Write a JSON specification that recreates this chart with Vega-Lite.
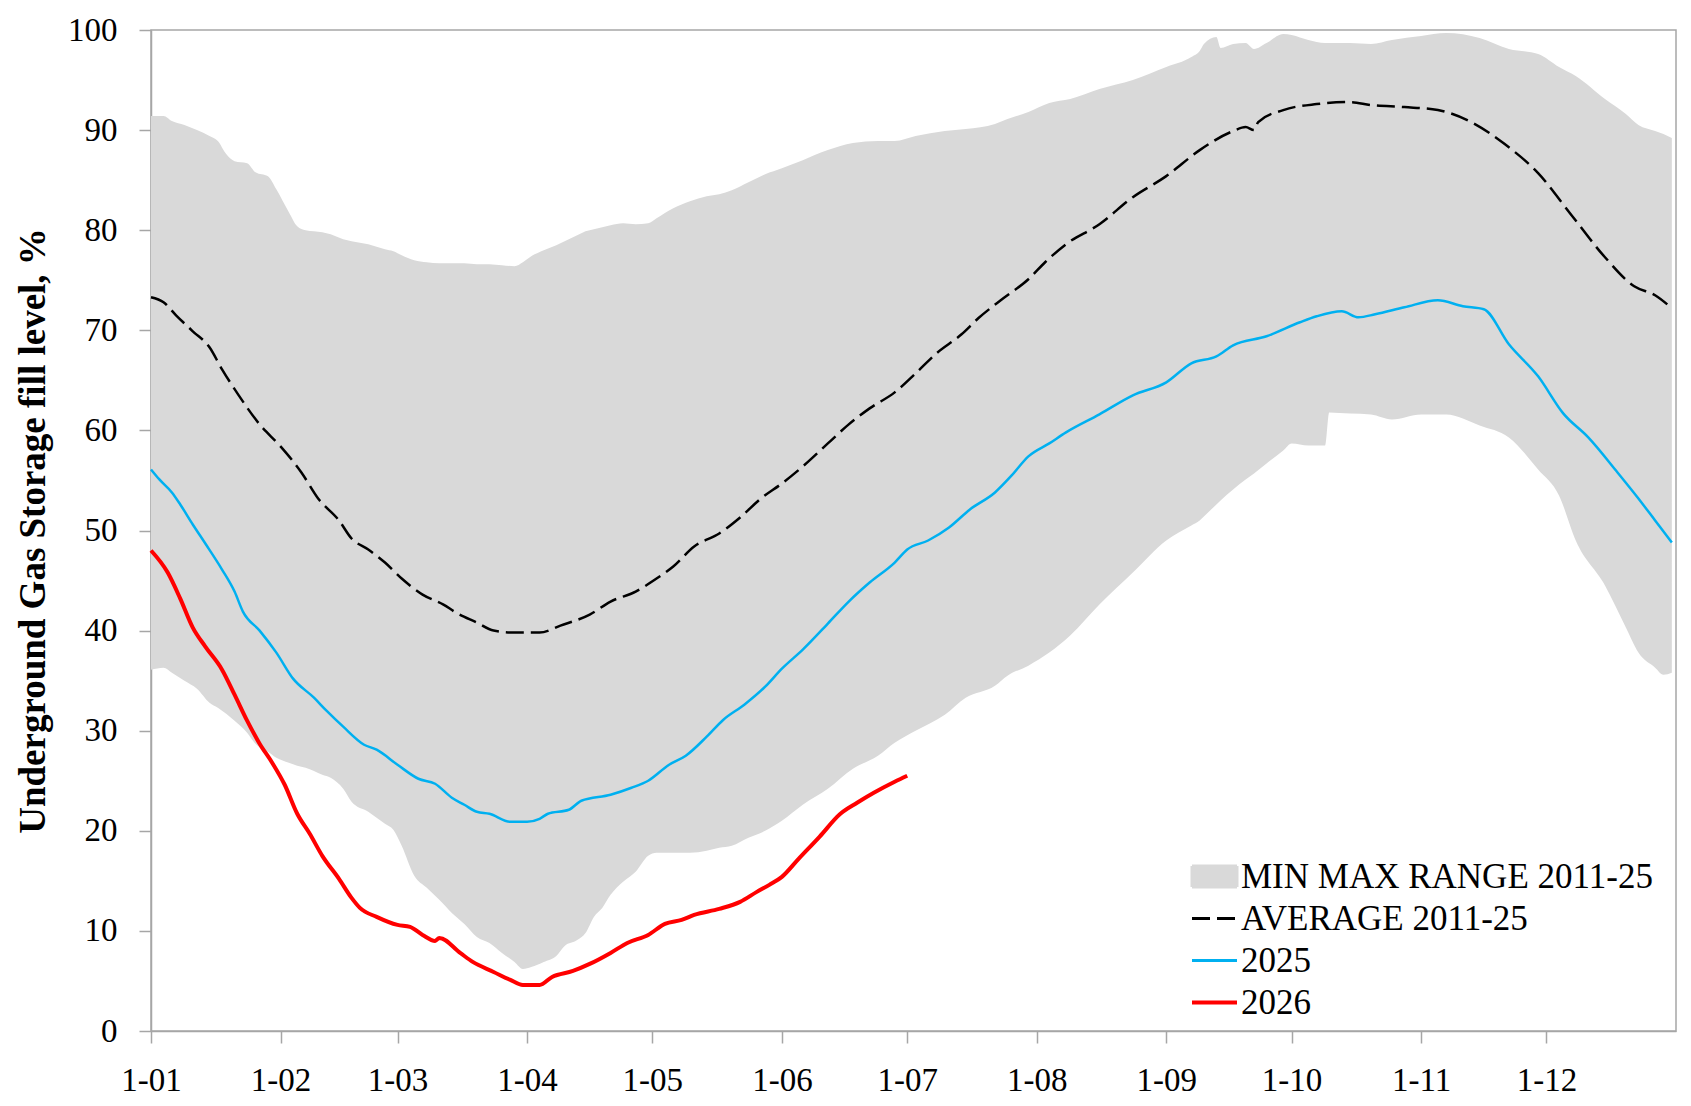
{
  "$schema": "https://vega.github.io/schema/vega-lite/v6.json",
  "width": 1525,
  "height": 1001,
  "autosize": {"type": "none"},
  "padding": {"left": 151, "top": 30, "right": 15, "bottom": 75},
  "background": "white",
  "config": {
    "font": "Liberation Serif",
    "view": {"stroke": "#a6a6a6", "strokeWidth": 1.5},
    "axis": {
      "domainColor": "#a6a6a6",
      "domainWidth": 1.5,
      "tickColor": "#a6a6a6",
      "tickWidth": 1.5,
      "tickSize": 12,
      "labelFont": "Liberation Serif",
      "labelFontSize": 33,
      "labelColor": "#000000",
      "grid": false,
      "zindex": 1
    },
    "legend": {
      "title": null,
      "orient": "none",
      "legendX": 1046,
      "legendY": 829,
      "padding": 0,
      "labelFont": "Liberation Serif",
      "labelFontSize": 35,
      "labelColor": "#000000",
      "labelOffset": 9,
      "labelLimit": 800,
      "symbolSize": 400,
      "rowPadding": 6
    }
  },
  "datasets": {
    "band": [
      {"date": "2025-01-01", "max": 91.4, "min": 36.1},
      {"date": "2025-01-04", "max": 91.4, "min": 36.3},
      {"date": "2025-01-06", "max": 90.9, "min": 35.8},
      {"date": "2025-01-09", "max": 90.5, "min": 35.0},
      {"date": "2025-01-12", "max": 90.0, "min": 34.2},
      {"date": "2025-01-15", "max": 89.4, "min": 32.8},
      {"date": "2025-01-17", "max": 88.9, "min": 32.3},
      {"date": "2025-01-19", "max": 87.6, "min": 31.7},
      {"date": "2025-01-21", "max": 86.9, "min": 31.0},
      {"date": "2025-01-24", "max": 86.7, "min": 29.8},
      {"date": "2025-01-26", "max": 85.8, "min": 28.7},
      {"date": "2025-01-29", "max": 85.4, "min": 27.9},
      {"date": "2025-01-31", "max": 84.1, "min": 27.3},
      {"date": "2025-02-03", "max": 81.8, "min": 26.8},
      {"date": "2025-02-05", "max": 80.4, "min": 26.5},
      {"date": "2025-02-07", "max": 80.0, "min": 26.3},
      {"date": "2025-02-11", "max": 79.8, "min": 25.6},
      {"date": "2025-02-13", "max": 79.6, "min": 25.3},
      {"date": "2025-02-16", "max": 79.1, "min": 24.2},
      {"date": "2025-02-18", "max": 78.9, "min": 22.9},
      {"date": "2025-02-22", "max": 78.6, "min": 21.9},
      {"date": "2025-02-26", "max": 78.1, "min": 20.7},
      {"date": "2025-02-28", "max": 77.9, "min": 20.1},
      {"date": "2025-03-02", "max": 77.5, "min": 18.5},
      {"date": "2025-03-05", "max": 77.0, "min": 15.5},
      {"date": "2025-03-08", "max": 76.8, "min": 14.3},
      {"date": "2025-03-11", "max": 76.7, "min": 13.1},
      {"date": "2025-03-14", "max": 76.7, "min": 11.8},
      {"date": "2025-03-17", "max": 76.7, "min": 10.7},
      {"date": "2025-03-20", "max": 76.6, "min": 9.4},
      {"date": "2025-03-23", "max": 76.6, "min": 8.8},
      {"date": "2025-03-26", "max": 76.5, "min": 7.8},
      {"date": "2025-03-29", "max": 76.4, "min": 6.9},
      {"date": "2025-03-31", "max": 76.8, "min": 6.2},
      {"date": "2025-04-02", "max": 77.4, "min": 6.4},
      {"date": "2025-04-05", "max": 78.0, "min": 6.9},
      {"date": "2025-04-08", "max": 78.5, "min": 7.5},
      {"date": "2025-04-10", "max": 78.9, "min": 8.5},
      {"date": "2025-04-13", "max": 79.5, "min": 9.1},
      {"date": "2025-04-15", "max": 79.9, "min": 9.8},
      {"date": "2025-04-17", "max": 80.1, "min": 11.4},
      {"date": "2025-04-19", "max": 80.3, "min": 12.3},
      {"date": "2025-04-21", "max": 80.5, "min": 13.6},
      {"date": "2025-04-24", "max": 80.7, "min": 14.9},
      {"date": "2025-04-27", "max": 80.6, "min": 15.9},
      {"date": "2025-04-30", "max": 80.7, "min": 17.5},
      {"date": "2025-05-02", "max": 81.2, "min": 17.8},
      {"date": "2025-05-06", "max": 82.2, "min": 17.8},
      {"date": "2025-05-10", "max": 82.9, "min": 17.8},
      {"date": "2025-05-14", "max": 83.4, "min": 18.0},
      {"date": "2025-05-17", "max": 83.6, "min": 18.3},
      {"date": "2025-05-20", "max": 84.0, "min": 18.5},
      {"date": "2025-05-24", "max": 84.8, "min": 19.3},
      {"date": "2025-05-28", "max": 85.6, "min": 20.0},
      {"date": "2025-06-01", "max": 86.2, "min": 21.0},
      {"date": "2025-06-06", "max": 87.0, "min": 22.6},
      {"date": "2025-06-12", "max": 88.0, "min": 24.2},
      {"date": "2025-06-18", "max": 88.7, "min": 26.2},
      {"date": "2025-06-24", "max": 88.9, "min": 27.5},
      {"date": "2025-06-28", "max": 88.9, "min": 28.8},
      {"date": "2025-07-03", "max": 89.4, "min": 30.0},
      {"date": "2025-07-10", "max": 89.9, "min": 31.6},
      {"date": "2025-07-15", "max": 90.1, "min": 33.3},
      {"date": "2025-07-22", "max": 90.6, "min": 34.5},
      {"date": "2025-07-25", "max": 91.1, "min": 35.5},
      {"date": "2025-07-30", "max": 91.8, "min": 36.5},
      {"date": "2025-08-04", "max": 92.7, "min": 37.8},
      {"date": "2025-08-09", "max": 93.1, "min": 39.5},
      {"date": "2025-08-16", "max": 94.1, "min": 42.6},
      {"date": "2025-08-24", "max": 95.0, "min": 45.8},
      {"date": "2025-09-01", "max": 96.3, "min": 49.0},
      {"date": "2025-09-07", "max": 97.3, "min": 50.5},
      {"date": "2025-09-09", "max": 97.9, "min": 51.0},
      {"date": "2025-09-10", "max": 98.6, "min": 51.4},
      {"date": "2025-09-13", "max": 99.3, "min": 52.6},
      {"date": "2025-09-14", "max": 98.2, "min": 53.0},
      {"date": "2025-09-17", "max": 98.6, "min": 54.1},
      {"date": "2025-09-20", "max": 98.7, "min": 55.1},
      {"date": "2025-09-22", "max": 98.1, "min": 55.7},
      {"date": "2025-09-25", "max": 98.7, "min": 56.7},
      {"date": "2025-09-29", "max": 99.6, "min": 58.0},
      {"date": "2025-10-01", "max": 99.5, "min": 58.7},
      {"date": "2025-10-05", "max": 99.0, "min": 58.5},
      {"date": "2025-10-09", "max": 98.7, "min": 58.5},
      {"date": "2025-10-10", "max": 98.7, "min": 61.8},
      {"date": "2025-10-15", "max": 98.7, "min": 61.7},
      {"date": "2025-10-20", "max": 98.6, "min": 61.6},
      {"date": "2025-10-25", "max": 99.0, "min": 61.1},
      {"date": "2025-11-01", "max": 99.4, "min": 61.6},
      {"date": "2025-11-07", "max": 99.7, "min": 61.6},
      {"date": "2025-11-15", "max": 99.2, "min": 60.5},
      {"date": "2025-11-22", "max": 98.1, "min": 59.3},
      {"date": "2025-11-29", "max": 97.6, "min": 56.1},
      {"date": "2025-12-04", "max": 96.3, "min": 53.5},
      {"date": "2025-12-08", "max": 95.4, "min": 49.0},
      {"date": "2025-12-15", "max": 93.1, "min": 44.5},
      {"date": "2025-12-20", "max": 91.6, "min": 40.3},
      {"date": "2025-12-23", "max": 90.5, "min": 37.8},
      {"date": "2025-12-27", "max": 89.9, "min": 36.3},
      {"date": "2025-12-29", "max": 89.6, "min": 35.6},
      {"date": "2025-12-31", "max": 89.2, "min": 35.8}
    ],
    "lines": [
      {"series": "AVERAGE 2011-25", "date": "2025-01-01", "value": 73.3},
      {"series": "AVERAGE 2011-25", "date": "2025-01-04", "value": 72.8},
      {"series": "AVERAGE 2011-25", "date": "2025-01-07", "value": 71.5},
      {"series": "AVERAGE 2011-25", "date": "2025-01-11", "value": 69.9},
      {"series": "AVERAGE 2011-25", "date": "2025-01-15", "value": 68.3},
      {"series": "AVERAGE 2011-25", "date": "2025-01-18", "value": 66.1},
      {"series": "AVERAGE 2011-25", "date": "2025-01-22", "value": 63.5},
      {"series": "AVERAGE 2011-25", "date": "2025-01-27", "value": 60.6},
      {"series": "AVERAGE 2011-25", "date": "2025-02-01", "value": 58.4},
      {"series": "AVERAGE 2011-25", "date": "2025-02-06", "value": 55.8},
      {"series": "AVERAGE 2011-25", "date": "2025-02-10", "value": 53.2},
      {"series": "AVERAGE 2011-25", "date": "2025-02-15", "value": 51.0},
      {"series": "AVERAGE 2011-25", "date": "2025-02-18", "value": 49.2},
      {"series": "AVERAGE 2011-25", "date": "2025-02-22", "value": 48.1},
      {"series": "AVERAGE 2011-25", "date": "2025-02-26", "value": 46.8},
      {"series": "AVERAGE 2011-25", "date": "2025-03-02", "value": 45.2},
      {"series": "AVERAGE 2011-25", "date": "2025-03-07", "value": 43.6},
      {"series": "AVERAGE 2011-25", "date": "2025-03-12", "value": 42.6},
      {"series": "AVERAGE 2011-25", "date": "2025-03-15", "value": 41.8},
      {"series": "AVERAGE 2011-25", "date": "2025-03-20", "value": 40.8},
      {"series": "AVERAGE 2011-25", "date": "2025-03-24", "value": 40.0},
      {"series": "AVERAGE 2011-25", "date": "2025-03-29", "value": 39.8},
      {"series": "AVERAGE 2011-25", "date": "2025-04-04", "value": 39.8},
      {"series": "AVERAGE 2011-25", "date": "2025-04-09", "value": 40.5},
      {"series": "AVERAGE 2011-25", "date": "2025-04-16", "value": 41.6},
      {"series": "AVERAGE 2011-25", "date": "2025-04-21", "value": 42.9},
      {"series": "AVERAGE 2011-25", "date": "2025-04-27", "value": 43.9},
      {"series": "AVERAGE 2011-25", "date": "2025-05-02", "value": 45.2},
      {"series": "AVERAGE 2011-25", "date": "2025-05-06", "value": 46.4},
      {"series": "AVERAGE 2011-25", "date": "2025-05-11", "value": 48.4},
      {"series": "AVERAGE 2011-25", "date": "2025-05-17", "value": 49.7},
      {"series": "AVERAGE 2011-25", "date": "2025-05-22", "value": 51.3},
      {"series": "AVERAGE 2011-25", "date": "2025-05-27", "value": 53.2},
      {"series": "AVERAGE 2011-25", "date": "2025-06-01", "value": 54.7},
      {"series": "AVERAGE 2011-25", "date": "2025-06-06", "value": 56.4},
      {"series": "AVERAGE 2011-25", "date": "2025-06-12", "value": 58.7},
      {"series": "AVERAGE 2011-25", "date": "2025-06-17", "value": 60.6},
      {"series": "AVERAGE 2011-25", "date": "2025-06-22", "value": 62.2},
      {"series": "AVERAGE 2011-25", "date": "2025-06-28", "value": 63.8},
      {"series": "AVERAGE 2011-25", "date": "2025-07-03", "value": 65.7},
      {"series": "AVERAGE 2011-25", "date": "2025-07-08", "value": 67.7},
      {"series": "AVERAGE 2011-25", "date": "2025-07-14", "value": 69.6},
      {"series": "AVERAGE 2011-25", "date": "2025-07-18", "value": 71.2},
      {"series": "AVERAGE 2011-25", "date": "2025-07-24", "value": 73.2},
      {"series": "AVERAGE 2011-25", "date": "2025-07-30", "value": 75.1},
      {"series": "AVERAGE 2011-25", "date": "2025-08-03", "value": 76.8},
      {"series": "AVERAGE 2011-25", "date": "2025-08-08", "value": 78.6},
      {"series": "AVERAGE 2011-25", "date": "2025-08-16", "value": 80.6},
      {"series": "AVERAGE 2011-25", "date": "2025-08-24", "value": 83.3},
      {"series": "AVERAGE 2011-25", "date": "2025-09-01", "value": 85.4},
      {"series": "AVERAGE 2011-25", "date": "2025-09-09", "value": 88.0},
      {"series": "AVERAGE 2011-25", "date": "2025-09-17", "value": 89.9},
      {"series": "AVERAGE 2011-25", "date": "2025-09-20", "value": 90.3},
      {"series": "AVERAGE 2011-25", "date": "2025-09-22", "value": 90.0},
      {"series": "AVERAGE 2011-25", "date": "2025-09-23", "value": 90.8},
      {"series": "AVERAGE 2011-25", "date": "2025-09-29", "value": 92.0},
      {"series": "AVERAGE 2011-25", "date": "2025-10-07", "value": 92.6},
      {"series": "AVERAGE 2011-25", "date": "2025-10-15", "value": 92.8},
      {"series": "AVERAGE 2011-25", "date": "2025-10-20", "value": 92.5},
      {"series": "AVERAGE 2011-25", "date": "2025-10-28", "value": 92.3},
      {"series": "AVERAGE 2011-25", "date": "2025-11-05", "value": 92.0},
      {"series": "AVERAGE 2011-25", "date": "2025-11-13", "value": 90.8},
      {"series": "AVERAGE 2011-25", "date": "2025-11-21", "value": 88.6},
      {"series": "AVERAGE 2011-25", "date": "2025-11-29", "value": 85.7},
      {"series": "AVERAGE 2011-25", "date": "2025-12-07", "value": 81.5},
      {"series": "AVERAGE 2011-25", "date": "2025-12-15", "value": 77.3},
      {"series": "AVERAGE 2011-25", "date": "2025-12-22", "value": 74.4},
      {"series": "AVERAGE 2011-25", "date": "2025-12-27", "value": 73.5},
      {"series": "AVERAGE 2011-25", "date": "2025-12-31", "value": 72.2},

      {"series": "2025", "date": "2025-01-01", "value": 56.1},
      {"series": "2025", "date": "2025-01-03", "value": 55.1},
      {"series": "2025", "date": "2025-01-06", "value": 53.8},
      {"series": "2025", "date": "2025-01-08", "value": 52.6},
      {"series": "2025", "date": "2025-01-11", "value": 50.6},
      {"series": "2025", "date": "2025-01-14", "value": 48.7},
      {"series": "2025", "date": "2025-01-18", "value": 46.1},
      {"series": "2025", "date": "2025-01-21", "value": 43.9},
      {"series": "2025", "date": "2025-01-23", "value": 41.9},
      {"series": "2025", "date": "2025-01-27", "value": 40.0},
      {"series": "2025", "date": "2025-01-31", "value": 37.8},
      {"series": "2025", "date": "2025-02-04", "value": 35.2},
      {"series": "2025", "date": "2025-02-09", "value": 33.3},
      {"series": "2025", "date": "2025-02-12", "value": 32.0},
      {"series": "2025", "date": "2025-02-16", "value": 30.4},
      {"series": "2025", "date": "2025-02-21", "value": 28.6},
      {"series": "2025", "date": "2025-02-24", "value": 28.1},
      {"series": "2025", "date": "2025-03-01", "value": 26.6},
      {"series": "2025", "date": "2025-03-06", "value": 25.2},
      {"series": "2025", "date": "2025-03-10", "value": 24.7},
      {"series": "2025", "date": "2025-03-14", "value": 23.3},
      {"series": "2025", "date": "2025-03-17", "value": 22.6},
      {"series": "2025", "date": "2025-03-20", "value": 21.9},
      {"series": "2025", "date": "2025-03-23", "value": 21.7},
      {"series": "2025", "date": "2025-03-28", "value": 20.9},
      {"series": "2025", "date": "2025-04-01", "value": 20.9},
      {"series": "2025", "date": "2025-04-04", "value": 21.2},
      {"series": "2025", "date": "2025-04-06", "value": 21.7},
      {"series": "2025", "date": "2025-04-11", "value": 22.1},
      {"series": "2025", "date": "2025-04-14", "value": 23.0},
      {"series": "2025", "date": "2025-04-21", "value": 23.6},
      {"series": "2025", "date": "2025-04-26", "value": 24.3},
      {"series": "2025", "date": "2025-04-30", "value": 25.0},
      {"series": "2025", "date": "2025-05-05", "value": 26.6},
      {"series": "2025", "date": "2025-05-09", "value": 27.5},
      {"series": "2025", "date": "2025-05-14", "value": 29.4},
      {"series": "2025", "date": "2025-05-18", "value": 31.1},
      {"series": "2025", "date": "2025-05-23", "value": 32.6},
      {"series": "2025", "date": "2025-05-28", "value": 34.4},
      {"series": "2025", "date": "2025-06-01", "value": 36.2},
      {"series": "2025", "date": "2025-06-06", "value": 38.1},
      {"series": "2025", "date": "2025-06-12", "value": 40.7},
      {"series": "2025", "date": "2025-06-17", "value": 42.9},
      {"series": "2025", "date": "2025-06-22", "value": 44.8},
      {"series": "2025", "date": "2025-06-28", "value": 46.8},
      {"series": "2025", "date": "2025-07-01", "value": 48.1},
      {"series": "2025", "date": "2025-07-06", "value": 49.0},
      {"series": "2025", "date": "2025-07-11", "value": 50.3},
      {"series": "2025", "date": "2025-07-16", "value": 52.1},
      {"series": "2025", "date": "2025-07-22", "value": 53.8},
      {"series": "2025", "date": "2025-07-26", "value": 55.5},
      {"series": "2025", "date": "2025-07-30", "value": 57.4},
      {"series": "2025", "date": "2025-08-04", "value": 58.7},
      {"series": "2025", "date": "2025-08-08", "value": 59.8},
      {"series": "2025", "date": "2025-08-16", "value": 61.6},
      {"series": "2025", "date": "2025-08-24", "value": 63.5},
      {"series": "2025", "date": "2025-09-01", "value": 64.8},
      {"series": "2025", "date": "2025-09-07", "value": 66.7},
      {"series": "2025", "date": "2025-09-13", "value": 67.4},
      {"series": "2025", "date": "2025-09-17", "value": 68.5},
      {"series": "2025", "date": "2025-09-25", "value": 69.4},
      {"series": "2025", "date": "2025-10-03", "value": 70.8},
      {"series": "2025", "date": "2025-10-07", "value": 71.4},
      {"series": "2025", "date": "2025-10-13", "value": 71.9},
      {"series": "2025", "date": "2025-10-17", "value": 71.3},
      {"series": "2025", "date": "2025-10-21", "value": 71.6},
      {"series": "2025", "date": "2025-10-28", "value": 72.3},
      {"series": "2025", "date": "2025-11-05", "value": 73.0},
      {"series": "2025", "date": "2025-11-11", "value": 72.4},
      {"series": "2025", "date": "2025-11-16", "value": 72.1},
      {"series": "2025", "date": "2025-11-22", "value": 68.6},
      {"series": "2025", "date": "2025-11-29", "value": 65.4},
      {"series": "2025", "date": "2025-12-05", "value": 61.7},
      {"series": "2025", "date": "2025-12-11", "value": 59.3},
      {"series": "2025", "date": "2025-12-18", "value": 55.8},
      {"series": "2025", "date": "2025-12-23", "value": 53.2},
      {"series": "2025", "date": "2025-12-27", "value": 51.0},
      {"series": "2025", "date": "2025-12-31", "value": 48.8},

      {"series": "2026", "date": "2025-01-01", "value": 48.0},
      {"series": "2026", "date": "2025-01-05", "value": 45.8},
      {"series": "2026", "date": "2025-01-08", "value": 43.2},
      {"series": "2026", "date": "2025-01-11", "value": 40.3},
      {"series": "2026", "date": "2025-01-14", "value": 38.4},
      {"series": "2026", "date": "2025-01-18", "value": 36.1},
      {"series": "2026", "date": "2025-01-21", "value": 33.6},
      {"series": "2026", "date": "2025-01-24", "value": 31.0},
      {"series": "2026", "date": "2025-01-27", "value": 28.7},
      {"series": "2026", "date": "2025-01-30", "value": 26.8},
      {"series": "2026", "date": "2025-02-02", "value": 24.6},
      {"series": "2026", "date": "2025-02-05", "value": 21.7},
      {"series": "2026", "date": "2025-02-08", "value": 19.7},
      {"series": "2026", "date": "2025-02-11", "value": 17.5},
      {"series": "2026", "date": "2025-02-15", "value": 15.2},
      {"series": "2026", "date": "2025-02-18", "value": 13.3},
      {"series": "2026", "date": "2025-02-20", "value": 12.3},
      {"series": "2026", "date": "2025-02-24", "value": 11.4},
      {"series": "2026", "date": "2025-03-01", "value": 10.6},
      {"series": "2026", "date": "2025-03-04", "value": 10.4},
      {"series": "2026", "date": "2025-03-07", "value": 9.6},
      {"series": "2026", "date": "2025-03-10", "value": 9.0},
      {"series": "2026", "date": "2025-03-11", "value": 9.3},
      {"series": "2026", "date": "2025-03-16", "value": 7.8},
      {"series": "2026", "date": "2025-03-19", "value": 6.9},
      {"series": "2026", "date": "2025-03-24", "value": 5.9},
      {"series": "2026", "date": "2025-03-28", "value": 5.1},
      {"series": "2026", "date": "2025-03-31", "value": 4.6},
      {"series": "2026", "date": "2025-04-04", "value": 4.6},
      {"series": "2026", "date": "2025-04-07", "value": 5.4},
      {"series": "2026", "date": "2025-04-12", "value": 6.0},
      {"series": "2026", "date": "2025-04-16", "value": 6.7},
      {"series": "2026", "date": "2025-04-21", "value": 7.8},
      {"series": "2026", "date": "2025-04-25", "value": 8.8},
      {"series": "2026", "date": "2025-04-30", "value": 9.6},
      {"series": "2026", "date": "2025-05-04", "value": 10.7},
      {"series": "2026", "date": "2025-05-08", "value": 11.1},
      {"series": "2026", "date": "2025-05-11", "value": 11.6},
      {"series": "2026", "date": "2025-05-17", "value": 12.2},
      {"series": "2026", "date": "2025-05-22", "value": 12.9},
      {"series": "2026", "date": "2025-05-26", "value": 13.9},
      {"series": "2026", "date": "2025-05-29", "value": 14.6},
      {"series": "2026", "date": "2025-06-01", "value": 15.4},
      {"series": "2026", "date": "2025-06-05", "value": 17.2},
      {"series": "2026", "date": "2025-06-10", "value": 19.4},
      {"series": "2026", "date": "2025-06-15", "value": 21.7},
      {"series": "2026", "date": "2025-06-19", "value": 22.8},
      {"series": "2026", "date": "2025-06-23", "value": 23.8},
      {"series": "2026", "date": "2025-06-28", "value": 24.9},
      {"series": "2026", "date": "2025-07-01", "value": 25.5}
    ]
  },
  "layer": [
    {
      "data": {"name": "band"},
      "mark": {"type": "area", "color": "#d9d9d9", "opacity": 1, "interpolate": "monotone"},
      "encoding": {
        "x": {
          "field": "date",
          "type": "temporal",
          "scale": {
            "type": "utc",
            "domain": [
              {"year": 2025, "month": 1, "date": 1, "utc": true},
              {"year": 2026, "month": 1, "date": 1, "utc": true}
            ]
          },
          "axis": {
            "title": null,
            "format": "%-d-%m",
            "labelPadding": 21,
            "labelOverlap": false,
            "labelFlush": false,
            "values": [
              {"year": 2025, "month": 1, "date": 1, "utc": true},
              {"year": 2025, "month": 2, "date": 1, "utc": true},
              {"year": 2025, "month": 3, "date": 1, "utc": true},
              {"year": 2025, "month": 4, "date": 1, "utc": true},
              {"year": 2025, "month": 5, "date": 1, "utc": true},
              {"year": 2025, "month": 6, "date": 1, "utc": true},
              {"year": 2025, "month": 7, "date": 1, "utc": true},
              {"year": 2025, "month": 8, "date": 1, "utc": true},
              {"year": 2025, "month": 9, "date": 1, "utc": true},
              {"year": 2025, "month": 10, "date": 1, "utc": true},
              {"year": 2025, "month": 11, "date": 1, "utc": true},
              {"year": 2025, "month": 12, "date": 1, "utc": true}
            ]
          }
        },
        "y": {
          "field": "max",
          "type": "quantitative",
          "scale": {"domain": [0, 100], "nice": false},
          "axis": {
            "title": "Underground Gas Storage fill level, %",
            "titleFont": "Liberation Serif",
            "titleFontSize": 37,
            "titleFontWeight": "bold",
            "titleColor": "#000000",
            "titlePadding": 15,
            "labelPadding": 22,
            "values": [0, 10, 20, 30, 40, 50, 60, 70, 80, 90, 100],
            "format": "d"
          }
        },
        "y2": {"field": "min"},
        "color": {
          "datum": "MIN MAX RANGE 2011-25",
          "type": "nominal",
          "scale": {
            "domain": ["MIN MAX RANGE 2011-25", "AVERAGE 2011-25", "2025", "2026"],
            "range": ["#d9d9d9", "#000000", "#00b0f0", "#ff0000"]
          },
          "legend": {
            "title": null,
            "encode": {
              "symbols": {
                "update": {
                  "shape": {"signal": "datum.value === 'MIN MAX RANGE 2011-25' ? 'M-2.25,-1.05H2.25V1.05H-2.25Z' : 'M-2.25,0H2.25'"},
                  "fill": {"signal": "datum.value === 'MIN MAX RANGE 2011-25' ? '#d9d9d9' : 'transparent'"},
                  "stroke": {"signal": "datum.value === 'MIN MAX RANGE 2011-25' ? 'transparent' : datum.value === '2025' ? '#00b0f0' : datum.value === '2026' ? '#ff0000' : '#000000'"},
                  "strokeWidth": {"signal": "datum.value === '2026' ? 4 : 3"},
                  "strokeDash": {"signal": "datum.value === 'AVERAGE 2011-25' ? [18, 7] : [1, 0]"},
                  "opacity": {"value": 1}
                }
              }
            }
          }
        }
      }
    },
    {
      "data": {"name": "lines"},
      "transform": [{"filter": {"field": "series", "equal": "AVERAGE 2011-25"}}],
      "mark": {"type": "line", "strokeWidth": 2.5, "strokeDash": [18, 7], "strokeCap": "butt", "strokeJoin": "round", "interpolate": "monotone"},
      "encoding": {
        "x": {"field": "date", "type": "temporal"},
        "y": {"field": "value", "type": "quantitative"},
        "color": {
          "field": "series",
          "type": "nominal",
          "legend": {
            "title": null,
            "encode": {
              "symbols": {
                "update": {
                  "shape": {"signal": "datum.value === 'MIN MAX RANGE 2011-25' ? 'M-2.25,-1.05H2.25V1.05H-2.25Z' : 'M-2.25,0H2.25'"},
                  "fill": {"signal": "datum.value === 'MIN MAX RANGE 2011-25' ? '#d9d9d9' : 'transparent'"},
                  "stroke": {"signal": "datum.value === 'MIN MAX RANGE 2011-25' ? 'transparent' : datum.value === '2025' ? '#00b0f0' : datum.value === '2026' ? '#ff0000' : '#000000'"},
                  "strokeWidth": {"signal": "datum.value === '2026' ? 4 : 3"},
                  "strokeDash": {"signal": "datum.value === 'AVERAGE 2011-25' ? [18, 7] : [1, 0]"},
                  "opacity": {"value": 1}
                }
              }
            }
          }
        }
      }
    },
    {
      "data": {"name": "lines"},
      "transform": [{"filter": {"field": "series", "equal": "2025"}}],
      "mark": {"type": "line", "strokeWidth": 2.5, "strokeJoin": "round", "interpolate": "monotone"},
      "encoding": {
        "x": {"field": "date", "type": "temporal"},
        "y": {"field": "value", "type": "quantitative"},
        "color": {
          "field": "series",
          "type": "nominal",
          "legend": {
            "title": null,
            "encode": {
              "symbols": {
                "update": {
                  "shape": {"signal": "datum.value === 'MIN MAX RANGE 2011-25' ? 'M-2.25,-1.05H2.25V1.05H-2.25Z' : 'M-2.25,0H2.25'"},
                  "fill": {"signal": "datum.value === 'MIN MAX RANGE 2011-25' ? '#d9d9d9' : 'transparent'"},
                  "stroke": {"signal": "datum.value === 'MIN MAX RANGE 2011-25' ? 'transparent' : datum.value === '2025' ? '#00b0f0' : datum.value === '2026' ? '#ff0000' : '#000000'"},
                  "strokeWidth": {"signal": "datum.value === '2026' ? 4 : 3"},
                  "strokeDash": {"signal": "datum.value === 'AVERAGE 2011-25' ? [18, 7] : [1, 0]"},
                  "opacity": {"value": 1}
                }
              }
            }
          }
        }
      }
    },
    {
      "data": {"name": "lines"},
      "transform": [{"filter": {"field": "series", "equal": "2026"}}],
      "mark": {"type": "line", "strokeWidth": 4, "strokeJoin": "round", "interpolate": "monotone"},
      "encoding": {
        "x": {"field": "date", "type": "temporal"},
        "y": {"field": "value", "type": "quantitative"},
        "color": {
          "field": "series",
          "type": "nominal",
          "legend": {
            "title": null,
            "encode": {
              "symbols": {
                "update": {
                  "shape": {"signal": "datum.value === 'MIN MAX RANGE 2011-25' ? 'M-2.25,-1.05H2.25V1.05H-2.25Z' : 'M-2.25,0H2.25'"},
                  "fill": {"signal": "datum.value === 'MIN MAX RANGE 2011-25' ? '#d9d9d9' : 'transparent'"},
                  "stroke": {"signal": "datum.value === 'MIN MAX RANGE 2011-25' ? 'transparent' : datum.value === '2025' ? '#00b0f0' : datum.value === '2026' ? '#ff0000' : '#000000'"},
                  "strokeWidth": {"signal": "datum.value === '2026' ? 4 : 3"},
                  "strokeDash": {"signal": "datum.value === 'AVERAGE 2011-25' ? [18, 7] : [1, 0]"},
                  "opacity": {"value": 1}
                }
              }
            }
          }
        }
      }
    }
  ]
}
